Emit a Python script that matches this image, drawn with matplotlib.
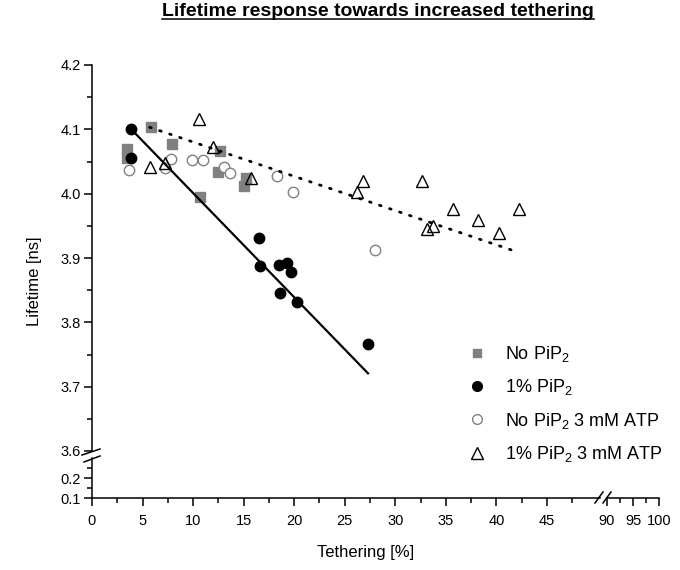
import numpy as np
import matplotlib
matplotlib.use("Agg")
import matplotlib.pyplot as plt
from matplotlib.lines import Line2D
from matplotlib.ticker import MultipleLocator, FixedLocator

plt.rcParams["font.family"] = ["Liberation Sans", "DejaVu Sans"]
plt.rcParams["mathtext.fontset"] = "custom"
plt.rcParams["mathtext.rm"] = "Liberation Sans"
plt.rcParams["mathtext.it"] = "Liberation Sans:italic"
plt.rcParams["mathtext.bf"] = "Liberation Sans:bold"

# tethering [%] / lifetime [ns]
no_pip_x = [3.5, 3.5, 5.8, 7.9, 10.7, 12.5, 12.7, 15.0, 15.2]
no_pip_y = [4.069, 4.055, 4.103, 4.077, 3.995, 4.034, 4.066, 4.012, 4.025]

pip_x = [3.9, 3.9, 16.5, 16.6, 18.5, 18.6, 19.3, 19.7, 20.3, 27.3]
pip_y = [4.101, 4.056, 3.931, 3.887, 3.889, 3.845, 3.893, 3.879, 3.832, 3.766]

no_pip_atp_x = [3.7, 7.2, 7.8, 9.9, 11.0, 13.1, 13.7, 18.3, 19.9, 28.0]
no_pip_atp_y = [4.037, 4.040, 4.054, 4.053, 4.053, 4.042, 4.032, 4.028, 4.002, 3.912]

pip_atp_x = [5.7, 7.2, 10.6, 12.0, 15.7, 26.2, 26.8, 32.6, 33.1, 33.7,
             35.7, 38.2, 40.3, 42.2]
pip_atp_y = [4.041, 4.047, 4.116, 4.072, 4.025, 4.003, 4.020, 4.020, 3.945,
             3.950, 3.976, 3.959, 3.939, 3.976]

# linear fits: intercept, slope, x range
pip_fit = (4.163, -0.0162, 3.9, 27.3)
upper_fit = (4.1336, -0.00533, 5.7, 41.7)

labels = ["No PiP$_2$", "1% PiP$_2$", "No PiP$_2$ 3 mM ATP",
          "1% PiP$_2$ 3 mM ATP"]

W, H = 680, 570


def rect(x0, y0, x1, y1):
    return [x0 / W, 1 - y1 / H, (x1 - x0) / W, (y1 - y0) / H]


fig = plt.figure(figsize=(W / 100, H / 100), dpi=100)
ax = fig.add_axes(rect(92, 65, 600, 451))
ax_lo = fig.add_axes(rect(92, 458, 600, 498))
ax_r = fig.add_axes(rect(607, 458, 659, 498))

for a in (ax, ax_lo, ax_r):
    for s in ("top", "right"):
        a.spines[s].set_visible(False)
    for s in ("left", "bottom"):
        a.spines[s].set_linewidth(1.1)
    a.tick_params(which="major", direction="out", length=6, width=1.1,
                  labelsize=10.5, pad=2)
    a.tick_params(which="minor", direction="out", length=3.5, width=1.1)
    a.tick_params(axis="x", which="major", pad=5.5)

# upper panel with the data
ax.spines["bottom"].set_visible(False)
ax.set_xlim(0, 50.25)
ax.set_ylim(3.6, 4.2)
ax.set_xticks([])
ax.yaxis.set_major_locator(MultipleLocator(0.1))
ax.yaxis.set_minor_locator(MultipleLocator(0.05))
ax.yaxis.set_major_formatter(lambda v, p: f"{v:.1f}")

ax.plot(no_pip_x, no_pip_y, ls="none", marker="s", ms=6.5, color="#808080",
        mec="#808080")
ax.plot(pip_x, pip_y, ls="none", marker="o", ms=7.5, color="black")
ax.plot(no_pip_atp_x, no_pip_atp_y, ls="none", marker="o", ms=7.5,
        mfc="white", mec="#808080", mew=1.0)
ax.plot(pip_atp_x, pip_atp_y, ls="none", marker="^", ms=8.5, mfc="none",
        mec="black", mew=1.0)

b, m, x0, x1 = pip_fit
xs = np.array([x0, x1])
ax.plot(xs, b + m * xs, color="black", lw=1.6)
b, m, x0, x1 = upper_fit
xs = np.array([x0, x1])
ax.plot(xs, b + m * xs, color="black", lw=2.0, ls=(0, (0.6, 3.2)),
        dash_capstyle="round")

# lower y segment
ax_lo.set_xlim(0, 50.25)
ax_lo.set_ylim(0.1, 0.3)
ax_lo.yaxis.set_major_locator(FixedLocator([0.1, 0.2]))
ax_lo.yaxis.set_minor_locator(FixedLocator([0.15, 0.25]))
ax_lo.yaxis.set_major_formatter(lambda v, p: f"{v:.1f}")
ax_lo.xaxis.set_major_locator(FixedLocator(np.arange(0, 50, 5)))
ax_lo.xaxis.set_minor_locator(FixedLocator(np.arange(2.5, 50, 5)))

# right x segment
ax_r.set_xlim(90, 100)
ax_r.set_ylim(0.1, 0.3)
ax_r.spines["left"].set_visible(False)
ax_r.set_yticks([])
ax_r.xaxis.set_major_locator(FixedLocator([90, 95, 100]))
ax_r.xaxis.set_minor_locator(FixedLocator([92.5, 97.5]))

# break marks
def slash(xa, ya, xb, yb):
    fig.add_artist(Line2D([xa / W, xb / W], [1 - ya / H, 1 - yb / H],
                          transform=fig.transFigure, color="black", lw=1.1))


slash(82, 455, 100, 449)
slash(84, 462, 100, 456)
slash(595, 503, 603, 492)
slash(603, 503, 611, 492)

handles = [
    Line2D([], [], ls="none", marker="s", ms=6, color="#808080"),
    Line2D([], [], ls="none", marker="o", ms=7, color="black"),
    Line2D([], [], ls="none", marker="o", ms=7, mfc="white", mec="#808080"),
    Line2D([], [], ls="none", marker="^", ms=8, mfc="none", mec="black"),
]
fig.legend(handles, labels, loc="upper left",
           bbox_to_anchor=(468 / W, 1 - 344 / H), frameon=False,
           fontsize=13, handlelength=1.0, handletextpad=1.05,
           labelspacing=0.74, borderpad=0, borderaxespad=0)

fig.text(35 / W, 1 - 281 / H, "Lifetime [ns]", rotation=90, ha="center",
         va="center", fontsize=12)
fig.text(366 / W, 1 - 552 / H, "Tethering [%]", ha="center", va="center",
         fontsize=12)
title = fig.text(378 / W, 1 - 12 / H,
                 "Lifetime response towards increased tethering",
                 ha="center", va="center", fontsize=14, fontweight="bold")

# underline the title
fig.canvas.draw()
bb = title.get_window_extent().transformed(fig.transFigure.inverted())
fig.add_artist(Line2D([bb.x0, bb.x1], [bb.y0 + 0.002, bb.y0 + 0.002],
                      transform=fig.transFigure, color="black", lw=1.1))

fig.savefig("out.png", dpi=100)
